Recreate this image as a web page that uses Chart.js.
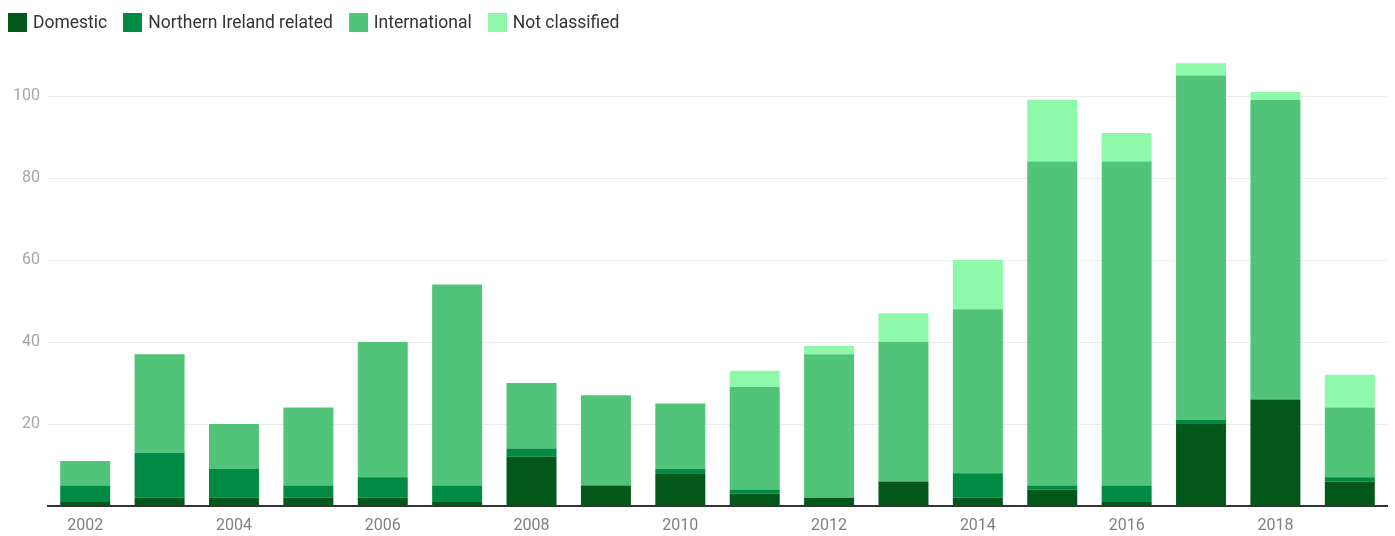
<!DOCTYPE html>
<html>
<head>
<meta charset="utf-8">
<script src="https://cdn.jsdelivr.net/npm/chart.js@4.4.1/dist/chart.umd.min.js"></script>
<style>
  html, body { margin: 0; padding: 0; background: #ffffff; }
  #wrap { position: relative; width: 1395px; height: 536px; }
  #legend { position: absolute; left: 8px; top: 12px; display: flex; align-items: center;
            font-family: Roboto, "Noto Sans", sans-serif; font-size: 17.5px; color: #333333; }
  .item { display: flex; align-items: center; margin-right: 16px; }
  .swatch { width: 19px; height: 19px; margin-right: 6px; }
</style>
</head>
<body>
<div id="wrap">
  <canvas id="chart" width="1395" height="536"></canvas>
  <div id="legend"></div>
</div>
<script>
// Years shown along the x axis
const years = ['2002','2003','2004','2005','2006','2007','2008','2009','2010',
               '2011','2012','2013','2014','2015','2016','2017','2018','2019'];

// Counts per category, stacked bottom to top
const domestic        = [1, 2, 2, 2, 2, 1, 12, 5, 8, 3, 2, 6, 2, 4, 1, 20, 26, 6];
const northernIreland = [4, 11, 7, 3, 5, 4, 2, 0, 1, 1, 0, 0, 6, 1, 4, 1, 0, 1];
const international   = [6, 24, 11, 19, 33, 49, 16, 22, 16, 25, 35, 34, 40, 79, 79, 84, 73, 17];
const notClassified   = [0, 0, 0, 0, 0, 0, 0, 0, 0, 4, 2, 7, 12, 15, 7, 3, 2, 8];

// Y axis gridline values that carry a label
const yTicks = [20, 40, 60, 80, 100];

const seriesNames  = ['Domestic', 'Northern Ireland related', 'International', 'Not classified'];
const seriesColors = ['#03571a', '#018a43', '#52c47a', '#8ef9aa'];
const seriesData   = [domestic, northernIreland, international, notClassified];

const FONT = 'Roboto, "Noto Sans", sans-serif';

const datasets = seriesNames.map((name, i) => ({
  label: name,
  data: seriesData[i],
  backgroundColor: seriesColors[i],
  borderWidth: 0,
  barPercentage: 0.672,
  categoryPercentage: 1.0
}));

// Legend row
const legendEl = document.getElementById('legend');
seriesNames.forEach((name, i) => {
  const item = document.createElement('div');
  item.className = 'item';
  const sw = document.createElement('div');
  sw.className = 'swatch';
  sw.style.background = seriesColors[i];
  const txt = document.createElement('span');
  txt.textContent = name;
  item.appendChild(sw);
  item.appendChild(txt);
  legendEl.appendChild(item);
});

new Chart(document.getElementById('chart'), {
  type: 'bar',
  data: { labels: years, datasets },
  options: {
    responsive: false,
    animation: false,
    layout: { padding: { top: 55, right: 8, left: 0, bottom: 0 } },
    plugins: { legend: { display: false }, tooltip: { enabled: false } },
    scales: {
      x: {
        stacked: true,
        grid: { display: false, drawTicks: false },
        border: { display: true, color: '#333333', width: 2 },
        afterFit: (s) => { s.height = 30; },
        ticks: {
          autoSkip: false,
          maxRotation: 0,
          padding: 10,
          color: '#808080',
          font: { family: FONT, size: 16 },
          callback: function (v, idx) { return idx % 2 === 0 ? years[idx] : ''; }
        }
      },
      y: {
        stacked: true,
        min: 0,
        max: 110,
        afterFit: (s) => { s.width = 48; },
        afterBuildTicks: (s) => { s.ticks = yTicks.map(v => ({ value: v })); },
        grid: { color: '#ebebeb', lineWidth: 1, drawTicks: false },
        border: { display: false },
        ticks: {
          padding: 8,
          color: '#a6a6a6',
          font: { family: FONT, size: 16 }
        }
      }
    }
  }
});
</script>
</body>
</html>
